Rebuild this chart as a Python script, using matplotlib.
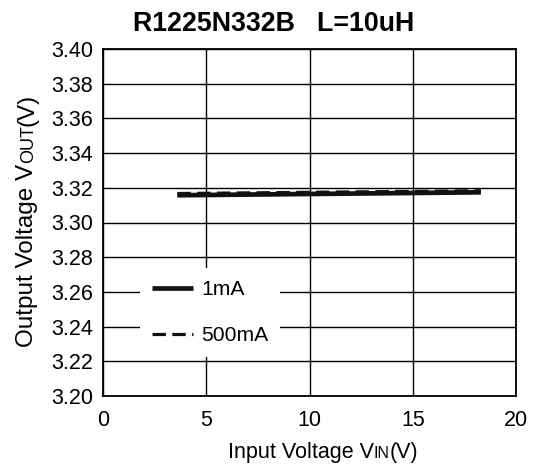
import matplotlib
matplotlib.use("Agg")
import matplotlib.pyplot as plt

plt.rcParams['font.family'] = ['Liberation Sans', 'DejaVu Sans']

# data
vin_1mA = [3.6, 18.3]
vout_1mA = [3.3157, 3.3174]
vin_500mA = [3.6, 18.3]
vout_500mA = [3.3167, 3.3183]

xticks = [0, 5, 10, 15, 20]
yticks = [3.20, 3.22, 3.24, 3.26, 3.28, 3.30, 3.32, 3.34, 3.36, 3.38, 3.40]

W, H = 540, 468
fig = plt.figure(figsize=(5.4, 4.68), dpi=100)
ax = fig.add_axes([103/W, 1-396/H, 413/W, 347/H])

ax.plot(vin_1mA, vout_1mA, color='#111111', lw=3.4, solid_capstyle='butt', label='1mA')
ax.plot(vin_500mA, vout_500mA, color='#111111', lw=2.3, ls=(0, (4.2, 2.0)), label='500mA')

ax.set_xlim(0, 20)
ax.set_ylim(3.20, 3.40)
ax.set_xticks(xticks)
ax.set_yticks(yticks)
ax.set_yticklabels(['%.2f' % v for v in yticks])
ax.tick_params(length=0, labelsize=15.5)
ax.tick_params(axis='x', pad=10)
ax.tick_params(axis='y', pad=7)
ax.grid(True, color='black', lw=1.0)
for s in ax.spines.values():
    s.set_linewidth(1.3)

fig.text(274/W, 1-31/H, 'R1225N332B   L=10uH', fontsize=19.3, fontweight='bold',
         ha='center', va='baseline')

leg = ax.legend(loc='upper left', bbox_to_anchor=(0.09, 0.368), frameon=True,
                fontsize=15.2, handlelength=1.95, handletextpad=0.4,
                labelspacing=1.3, borderpad=0.55, borderaxespad=0, fancybox=False)
leg.get_frame().set_edgecolor('none')
leg.get_frame().set_facecolor('white')
leg.get_frame().set_alpha(1)

# axis labels with small-caps style parts
fig.canvas.draw()
r = fig.canvas.get_renderer()


def part_len(txt, size, rot):
    t = fig.text(0, 0, txt, fontsize=size, rotation=rot)
    bb = t.get_window_extent(r)
    t.remove()
    return bb.width if rot == 0 else bb.height


def compose(parts, cx, cy, rot):
    # cx, cy in pixels from top-left; centre along the text direction, baseline across
    total = sum(part_len(t, s, rot) for t, s in parts)
    pos = -total / 2
    for txt, size in parts:
        if rot == 0:
            fig.text((cx + pos) / W, 1 - cy / H, txt, fontsize=size,
                     ha='left', va='baseline')
        else:
            fig.text(cx / W, 1 - (cy - pos) / H, txt, fontsize=size, rotation=90,
                     rotation_mode='anchor', ha='left', va='baseline')
        pos += part_len(txt, size, rot)


compose([('Input Voltage V', 15.5), ('IN', 11.5), ('(V)', 15.5)], 323, 458, 0)
compose([('Output Voltage V', 17.5), ('OUT', 13), ('(V)', 17.5)], 33, 220, 90)

fig.savefig('out.png', dpi=100)
